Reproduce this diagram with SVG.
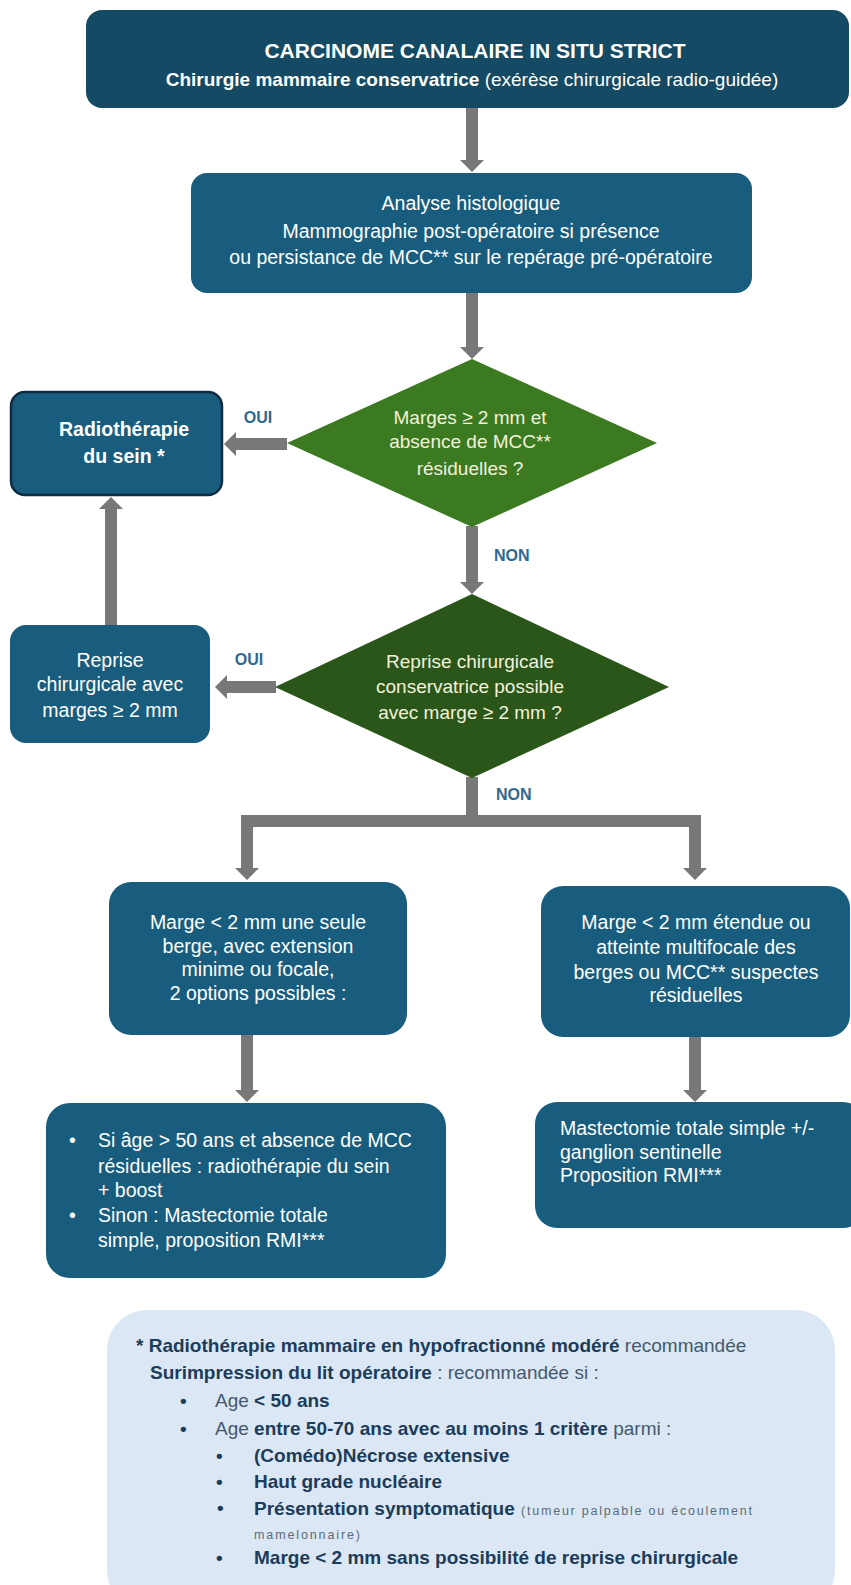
<svg xmlns="http://www.w3.org/2000/svg" width="851" height="1585" viewBox="0 0 851 1585">
  <style>
    text { font-family: "Liberation Sans", Arial, sans-serif; }
    .box { fill: #185d7e; }
    .top { fill: #144a63; }
    .bt { fill: #ffffff; font-size: 19.5px; text-anchor: middle; }
    .bl { fill: #ffffff; font-size: 19.5px; }
    .dt { fill: #f3f1dc; font-size: 19px; text-anchor: middle; }
    .lab { fill: #2c6a92; font-size: 16px; font-weight: bold; }
    .b { font-weight: bold; }
    .conn { fill: none; stroke: #787878; stroke-width: 12; stroke-linejoin: miter; }
    .fn { font-size: 19px; fill: #44596d; }
    .fb { font-weight: bold; fill: #1b3c5a; }
    .small { font-size: 12.5px; fill: #5a6b7b; font-weight: normal; }
  </style>
  <defs>
    <marker id="head" viewBox="0 -12 12 24" refX="0" refY="0" markerWidth="12" markerHeight="24" markerUnits="userSpaceOnUse" orient="auto">
      <path d="M0,-12 L12,0 L0,12 z" fill="#787878"/>
    </marker>
  </defs>

  <!-- connectors -->
  <g id="connectors">
    <path class="conn" d="M472,108 V160" marker-end="url(#head)"/>
    <path class="conn" d="M472,293 V347" marker-end="url(#head)"/>
    <path class="conn" d="M287,444 H236" marker-end="url(#head)"/>
    <path class="conn" d="M472,526 V582" marker-end="url(#head)"/>
    <path class="conn" d="M276,687 H227" marker-end="url(#head)"/>
    <path class="conn" d="M111,625 V509" marker-end="url(#head)"/>
    <path class="conn" d="M472,777 V821 H247 V868" marker-end="url(#head)"/>
    <path class="conn" d="M472,821 H695 V868" marker-end="url(#head)"/>
    <path class="conn" d="M247,1035 V1090" marker-end="url(#head)"/>
    <path class="conn" d="M695,1037 V1090" marker-end="url(#head)"/>
    <text class="lab" x="258" y="423" text-anchor="middle">OUI</text>
    <text class="lab" x="249" y="665" text-anchor="middle">OUI</text>
    <text class="lab" x="494" y="561">NON</text>
    <text class="lab" x="496" y="800">NON</text>
  </g>

  <!-- start -->
  <g id="start">
    <rect class="top" x="86" y="10" width="763" height="98" rx="16"/>
    <text x="475" y="58" fill="#ffffff" font-size="21" font-weight="bold" text-anchor="middle">CARCINOME CANALAIRE IN SITU STRICT</text>
    <text x="472" y="86" fill="#ffffff" font-size="19" text-anchor="middle"><tspan class="b">Chirurgie mammaire conservatrice</tspan> (exérèse chirurgicale radio-guidée)</text>
  </g>

  <!-- histology -->
  <g id="analyse">
    <rect class="box" x="191" y="173" width="561" height="120" rx="16"/>
    <text class="bt" x="471" y="210">Analyse histologique</text>
    <text class="bt" x="471" y="238">Mammographie post-opératoire si présence</text>
    <text class="bt" x="471" y="264">ou persistance de MCC** sur le repérage pré-opératoire</text>
  </g>

  <!-- first decision -->
  <g id="decision-marges">
    <polygon points="472,359 657,443 472,527 287,443" fill="#3c7a22"/>
    <text class="dt" x="470" y="424">Marges ≥ 2 mm et</text>
    <text class="dt" x="470" y="448">absence de MCC**</text>
    <text class="dt" x="470" y="475">résiduelles  ?</text>
  </g>

  <!-- radiotherapy -->
  <g id="radiotherapie">
    <rect class="box" x="11" y="392" width="211" height="103" rx="14" stroke="#0d2b42" stroke-width="2.5"/>
    <text class="bt b" x="124" y="436" font-size="19.5">Radiothérapie</text>
    <text class="bt b" x="124" y="463" font-size="19.5">du sein *</text>
  </g>

  <!-- second decision -->
  <g id="decision-reprise">
    <polygon points="472,594 669,687 472,778 275,687" fill="#2a5619"/>
    <text class="dt" x="470" y="668">Reprise chirurgicale</text>
    <text class="dt" x="470" y="693">conservatrice possible</text>
    <text class="dt" x="470" y="719">avec marge ≥ 2 mm ?</text>
  </g>

  <!-- re-excision -->
  <g id="reprise">
    <rect class="box" x="10" y="625" width="200" height="118" rx="16"/>
    <text class="bt" x="110" y="667">Reprise</text>
    <text class="bt" x="110" y="691">chirurgicale avec</text>
    <text class="bt" x="110" y="717">marges ≥ 2 mm</text>
  </g>

  <!-- focal margin -->
  <g id="marge-focale">
    <rect class="box" x="109" y="882" width="298" height="153" rx="22"/>
    <text class="bt" x="258" y="929">Marge &lt; 2 mm une seule</text>
    <text class="bt" x="258" y="953">berge, avec extension</text>
    <text class="bt" x="258" y="976">minime ou focale,</text>
    <text class="bt" x="258" y="1000">2 options possibles :</text>
  </g>

  <!-- extended margin -->
  <g id="marge-etendue">
    <rect class="box" x="541" y="886" width="309" height="151" rx="22"/>
    <text class="bt" x="696" y="929">Marge &lt; 2 mm étendue ou</text>
    <text class="bt" x="696" y="954">atteinte multifocale des</text>
    <text class="bt" x="696" y="979">berges ou MCC** suspectes</text>
    <text class="bt" x="696" y="1002">résiduelles</text>
  </g>

  <!-- options -->
  <g id="options">
    <rect class="box" x="46" y="1103" width="400" height="175" rx="24"/>
    <text class="bl" x="69" y="1147">•</text>
    <text class="bl" x="98" y="1147">Si âge &gt; 50 ans et absence de MCC</text>
    <text class="bl" x="98" y="1173">résiduelles : radiothérapie du sein</text>
    <text class="bl" x="98" y="1197">+ boost</text>
    <text class="bl" x="69" y="1222">•</text>
    <text class="bl" x="98" y="1222">Sinon : Mastectomie totale</text>
    <text class="bl" x="98" y="1247">simple, proposition RMI***</text>
  </g>

  <!-- mastectomy -->
  <g id="mastectomie">
    <rect class="box" x="535" y="1102" width="330" height="126" rx="22"/>
    <text class="bl" x="560" y="1135">Mastectomie totale simple +/-</text>
    <text class="bl" x="560" y="1159">ganglion sentinelle</text>
    <text class="bl" x="560" y="1182">Proposition RMI***</text>
  </g>

  <!-- footnote -->
  <g id="note">
    <rect x="107" y="1310" width="728" height="300" rx="40" fill="#dbe7f4"/>
    <text class="fn" x="136" y="1352"><tspan class="fb">* Radiothérapie mammaire en hypofractionné modéré</tspan> recommandée</text>
    <text class="fn" x="150" y="1379"><tspan class="fb">Surimpression du lit opératoire</tspan> : recommandée si :</text>
    <text class="fn fb" x="180" y="1407">•</text>
    <text class="fn" x="215" y="1407">Age <tspan class="fb">&lt; 50 ans</tspan></text>
    <text class="fn fb" x="180" y="1435">•</text>
    <text class="fn" x="215" y="1435">Age <tspan class="fb">entre 50-70 ans avec au moins 1 critère</tspan> parmi :</text>
    <text class="fn fb" x="216" y="1462">•</text>
    <text class="fn fb" x="254" y="1462">(Comédo)Nécrose extensive</text>
    <text class="fn fb" x="216" y="1488">•</text>
    <text class="fn fb" x="254" y="1488">Haut grade nucléaire</text>
    <text class="fn fb" x="217" y="1514" font-size="11">•</text>
    <text class="fn fb" x="254" y="1515">Présentation symptomatique</text>
    <text class="small" x="521" y="1515" textLength="231" lengthAdjust="spacing">(tumeur palpable ou écoulement</text>
    <text class="small" x="254" y="1539" textLength="106" lengthAdjust="spacing">mamelonnaire)</text>
    <text class="fn fb" x="216" y="1564">•</text>
    <text class="fn fb" x="254" y="1564">Marge &lt; 2 mm sans possibilité de reprise chirurgicale</text>
  </g>
</svg>
